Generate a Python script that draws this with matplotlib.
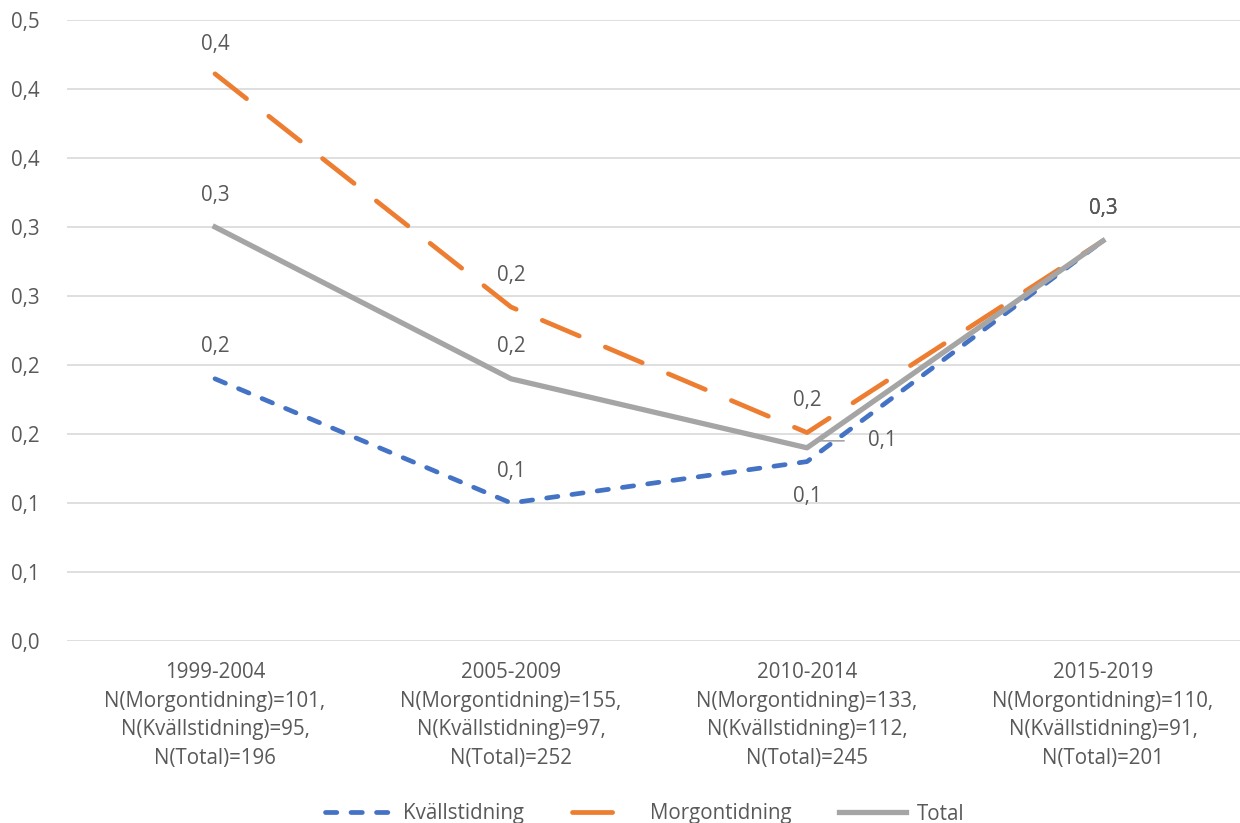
import matplotlib
matplotlib.use("Agg")
import matplotlib.pyplot as plt

categories = [
    "1999-2004\nN(Morgontidning)=101,\nN(Kvällstidning)=95,\nN(Total)=196",
    "2005-2009\nN(Morgontidning)=155,\nN(Kvällstidning)=97,\nN(Total)=252",
    "2010-2014\nN(Morgontidning)=133,\nN(Kvällstidning)=112,\nN(Total)=245",
    "2015-2019\nN(Morgontidning)=110,\nN(Kvällstidning)=91,\nN(Total)=201",
]
kvall = [0.19, 0.10, 0.13, 0.29]
morgon = [0.411, 0.242, 0.151, 0.29]
total = [0.30, 0.19, 0.14, 0.29]
yticks = [0.0, 0.05, 0.10, 0.15, 0.20, 0.25, 0.30, 0.35, 0.40, 0.45]
ytick_labels = ["0,0", "0,1", "0,1", "0,2", "0,2", "0,3", "0,3", "0,4", "0,4", "0,5"]

plt.rcParams['font.family'] = ['Open Sans', 'DejaVu Sans']
txt = '#595959'

W, H = 1240, 823
fig = plt.figure(figsize=(W / 100, H / 100), dpi=100)
ax = fig.add_axes([67 / W, 1 - 641 / H, (W - 67) / W, (641 - 20) / H])

x = list(range(len(categories)))
c_k, c_m, c_t = '#4472C4', '#ED7D31', '#A5A5A5'
lk, = ax.plot(x, kvall, color=c_k, lw=3.4, dashes=(2.4, 3.0), dash_capstyle='round', label='Kvällstidning', zorder=3)
lm, = ax.plot(x, morgon, color=c_m, lw=3.4, dashes=(8.5, 6.0), dash_capstyle='round', label='Morgontidning', zorder=3)
lt, = ax.plot(x, total, color=c_t, lw=3.8, label='Total', zorder=4)

ax.set_xlim(-0.5, 3.5 - 11 / 296)
ax.set_ylim(0, 0.45)
ax.set_yticks(yticks)
ax.set_yticklabels(ytick_labels)
ax.set_xticks(x)
ax.set_xticklabels(categories, linespacing=1.48)
ax.grid(axis='y', color='#D9D9D9', lw=1.2)
ax.set_axisbelow(True)
for s in ax.spines.values():
    s.set_visible(False)
fs = 14.8
ax.tick_params(length=0, labelsize=fs, colors=txt)
ax.tick_params(axis='y', pad=20)
ax.tick_params(axis='x', pad=15)

def lab(v):
    return f"{v:.1f}".replace('.', ',')

# Kvällstidning labels
for i, v in enumerate(kvall):
    dy = -25 if i == 2 else 23
    ax.annotate(lab(v), (i, v), xytext=(0, dy), textcoords='offset points', ha='center', va='center', fontsize=fs, color=txt)
# Morgontidning labels
for i, v in enumerate(morgon):
    dy = 21 if i == 0 else 23
    ax.annotate(lab(v), (i, v), xytext=(0, dy), textcoords='offset points', ha='center', va='center', fontsize=fs, color=txt)
# Total labels
for i, v in enumerate(total):
    if i == 2:
        ax.annotate(lab(v), (i, v), xytext=(54, 5), textcoords='offset points', ha='center', va='center', fontsize=fs, color=txt,
                    arrowprops=dict(arrowstyle='-', color=c_t, lw=1.2, shrinkA=15, shrinkB=2,
                                    connectionstyle='angle,angleA=0,angleB=30,rad=0'))
    else:
        ax.annotate(lab(v), (i, v), xytext=(0, 23), textcoords='offset points', ha='center', va='center', fontsize=fs, color=txt)

leg = fig.legend(handles=[lk, lm, lt], loc='center', bbox_to_anchor=(0.52, 1 - 814 / H), ncol=3, frameon=False,
                 fontsize=fs, labelcolor=txt, handlelength=3.3, columnspacing=2.3, handletextpad=0.5)

fig.savefig('out.png', dpi=100)
